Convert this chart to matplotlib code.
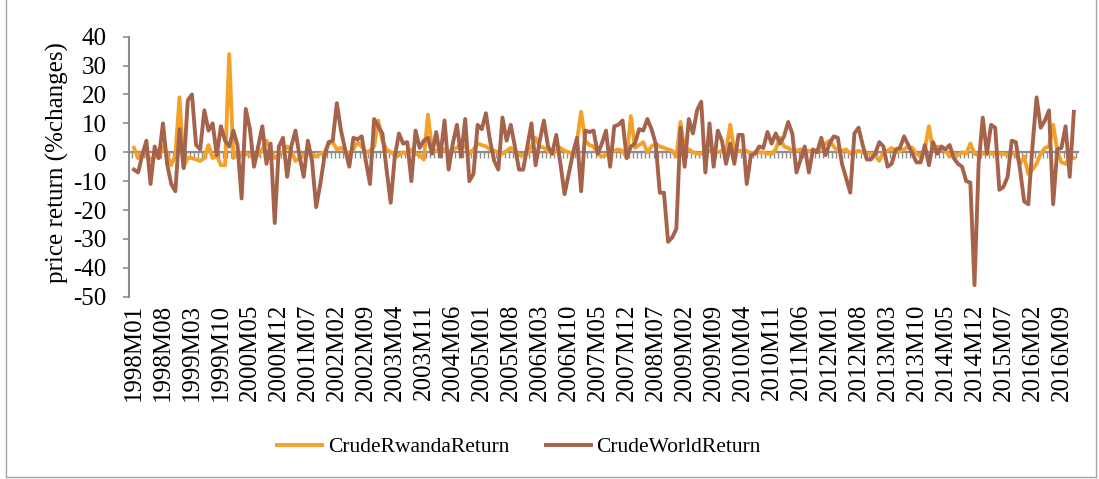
import matplotlib
matplotlib.use("Agg")
import matplotlib.pyplot as plt
from matplotlib.lines import Line2D
import numpy as np

# ---- data (monthly price returns, %), 1998M01 .. 2016M12 ----
years = list(range(1998, 2017))
months = [f"{y}M{m:02d}" for y in years for m in range(1, 13)]

crude_world = [
    -6, -7, -1, 4, -11, 2, -2, 10, -4, -11, -13.5, 8, -5.5, 18, 20, 2.5, 1, 14.5, 7.5, 10,
    -1, 9, 4, 2, 7.5, 2.5, -16, 15, 8, -5, 2, 9, -4, 3, -24.5, 2, 5, -8.5, 2, 7.5,
    -1.5, -8.5, 4, -3, -19, -11, -1.5, 3.5, 4, 17, 7.5, 1, -5, 5, 4.5, 5.5, -3, -11, 11.5, 9,
    6.5, -6, -17.5, -1.5, 6.5, 3, 3.5, -10, 7.5, 1.5, 4, 5, -0.5, 7, -1.5, 11, -6, 3, 9.5, -1.5,
    11.5, -10, -7.5, 9.5, 8, 13.5, 4, -3, -6, 12, 4, 9.5, 2, -6, -6, 2, 10, -4.5, 4, 11,
    2, -0.5, 6, -4, -14.5, -7.5, -0.5, 5, -13.5, 7.5, 7, 7.5, -0.5, 3, 7.5, -5, 9, 9.5, 11, -2,
    2, 3, 8, 7.5, 11.5, 8, 3, -14, -14, -31, -29.5, -26.5, 8.5, -5, 11.5, 6.5, 14.5, 17.5, -7, 10,
    -5, 7.5, 4, -4, 3, -4, 6, 6, -11, -1, -0.5, 2, 1.5, 7, 3, 6.5, 3, 5.5, 10.5, 6.5,
    -7, -2.5, 2, -7, 1, 0, 5, -1, 3, 5.5, 5, -4, -9, -14, 6.5, 8.5, 2.5, -2.5, -2.5, -0.5,
    3.5, 2, -5, -4, 1, 1.5, 5.5, 2.5, -0.5, -3.5, -3.5, 2.5, -4.5, 3.5, -0.5, 2, 1, 2.5, -2, -4,
    -5, -10, -10.5, -46, -4, 12, -0.5, 9.5, 8.5, -13, -12, -8.5, 4, 3.5, -6, -17, -18, 2, 19, 8.5,
    11, 14.5, -18, 1, 1.5, 9, -8.5, 14,
]

crude_rwanda = [
    1.5, -2, 0, -1, -2.5, -1.5, -2, 2, -1, -4.5, -1, 19, -5, -2, -2, -2.5, -3, -2, 2.5, -2,
    -1, -4.5, -4.5, 34, -2, 0, -0.5, -0.5, -1, -2, -1, 1, 4, 1, -2, -1, 0, 2, 0.5, -3,
    -2, -1, -0.5, -1, -1.5, -0.5, 0, 3, 3.5, 1, 1.5, 0.5, -1, 1, 3.5, 2, 0, 0.5, 2, 11,
    4, 1, 0, -1, -1, 0, -0.5, 1, -0.5, -1, -2.5, 13, 1, 0.5, 1, 1, 0, 1, 1.5, 3,
    2, -0.5, 1, 3, 2.5, 2, 1, 0.5, 0, -0.5, 0.5, 1.5, 0.5, -1, -1, -0.5, 2, 5, 2, 1.5,
    0.5, -0.5, 0.5, 1.5, 0.5, 0, -0.5, 4, 14, 4, 2.5, 2, -0.5, -1.5, -1, 0, 0.5, 1, 0.5, -2,
    12.5, 1.5, 2.5, 3.5, 0, 2, 3, 2, 1.5, 1, 0.5, -1.5, 10.5, 0.5, 1, 0, -0.5, -0.5, 0, 0.5,
    0, 0, 0.5, 0.5, 9.5, 0.5, 0.5, 0.5, 0.5, -0.5, 0, 0, 0, -0.5, -0.5, 1, 5, 2, 1.5, 0.5,
    0.5, 1, 0.5, 0.5, 0.5, 0.5, 1.5, 3, 4, 2, 0.5, 0.5, 1, -0.5, 0, 0.5, 0, -0.5, -0.5, -1,
    -3, 0, 0.5, 1.5, 0, 0.5, 1, 2, 1.5, -0.5, -1.5, 1, 9, 0.5, 2, 1.5, 0.5, -1.5, -0.5, -1,
    0, -0.5, 3, -0.5, -1, -0.5, -0.5, -0.5, -0.5, -0.5, -0.5, -1, -0.5, -0.5, -4, -1.5, -7.5, -6, -4, -0.5,
    1.5, 2, 9.5, 0.5, -3.5, -4, -1.5, -2,
]

series_names = ["CrudeRwandaReturn", "CrudeWorldReturn"]
label_step = 7

# ---- styling ----
FONT = ["Liberation Serif", "DejaVu Serif"]
plt.rcParams["font.family"] = FONT
plt.rcParams["axes.unicode_minus"] = False
FS_AX = 18
FS_LEG = 15.5
GRAY = "#8C8C8C"
ORANGE = "#F4A12A"
BROWN = "#A6634B"
LW = 2.8

W, H = 1099, 479
fig = plt.figure(figsize=(W / 100, H / 100), dpi=100)
L, R, T, B = 129, 1078, 36.7, 296.7
ax = fig.add_axes([L / W, 1 - B / H, (R - L) / W, (B - T) / H])

x = np.arange(len(months))
ax.plot(x, crude_rwanda, color=ORANGE, lw=LW, solid_joinstyle="round",
        label=series_names[0], zorder=3)
ax.plot(x, crude_world, color=BROWN, lw=LW, solid_joinstyle="round",
        label=series_names[1], zorder=4)

ax.set_xlim(-1.2, len(months))
ax.set_ylim(-50, 40)
ax.set_yticks(np.arange(-50, 41, 10))
ax.tick_params(axis="y", direction="out", length=4, width=1.2, color=GRAY,
               labelsize=FS_AX, pad=12)

for s in ["top", "right"]:
    ax.spines[s].set_visible(False)
ax.spines["left"].set_color(GRAY)
ax.spines["left"].set_linewidth(1.5)
ax.spines["bottom"].set_position(("data", 0))
ax.spines["bottom"].set_color(GRAY)
ax.spines["bottom"].set_linewidth(1.6)
ax.set_xticks([])
ax.set_xticks(np.arange(-0.5, len(months), 1), minor=True)
ax.tick_params(axis="x", which="minor", direction="out", length=4, width=1.0,
               color=GRAY, labelbottom=False)
ax.tick_params(axis="x", which="major", length=0, labelbottom=False)

sec = ax.secondary_xaxis("bottom")
pos = x[::label_step]
sec.set_xticks(pos, [months[i] for i in pos], rotation=90)
sec.tick_params(length=0, labelsize=FS_AX, pad=5)
sec.spines["bottom"].set_visible(False)

fig.text(57 / W, 1 - 163 / H, "price return (%changes)", rotation=90,
         ha="center", va="center", fontsize=FS_AX)

leg = fig.legend(handles=ax.get_lines(), labels=series_names, loc="center",
                 bbox_to_anchor=(519 / W, 1 - 447 / H), ncol=2, frameon=False,
                 fontsize=FS_LEG, handlelength=2.1, handletextpad=0.25,
                 columnspacing=1.7)

# chart-area border
bc = "#A6A6A6"
fig.add_artist(Line2D([6 / W, 6 / W], [1 - 477 / H, 1], color=bc, lw=1))
fig.add_artist(Line2D([1096 / W, 1096 / W], [1 - 477 / H, 1], color=bc, lw=1))
fig.add_artist(Line2D([6 / W, 1096 / W], [1 - 477 / H, 1 - 477 / H], color=bc, lw=1))

fig.savefig("out.png", dpi=100, facecolor="white")
